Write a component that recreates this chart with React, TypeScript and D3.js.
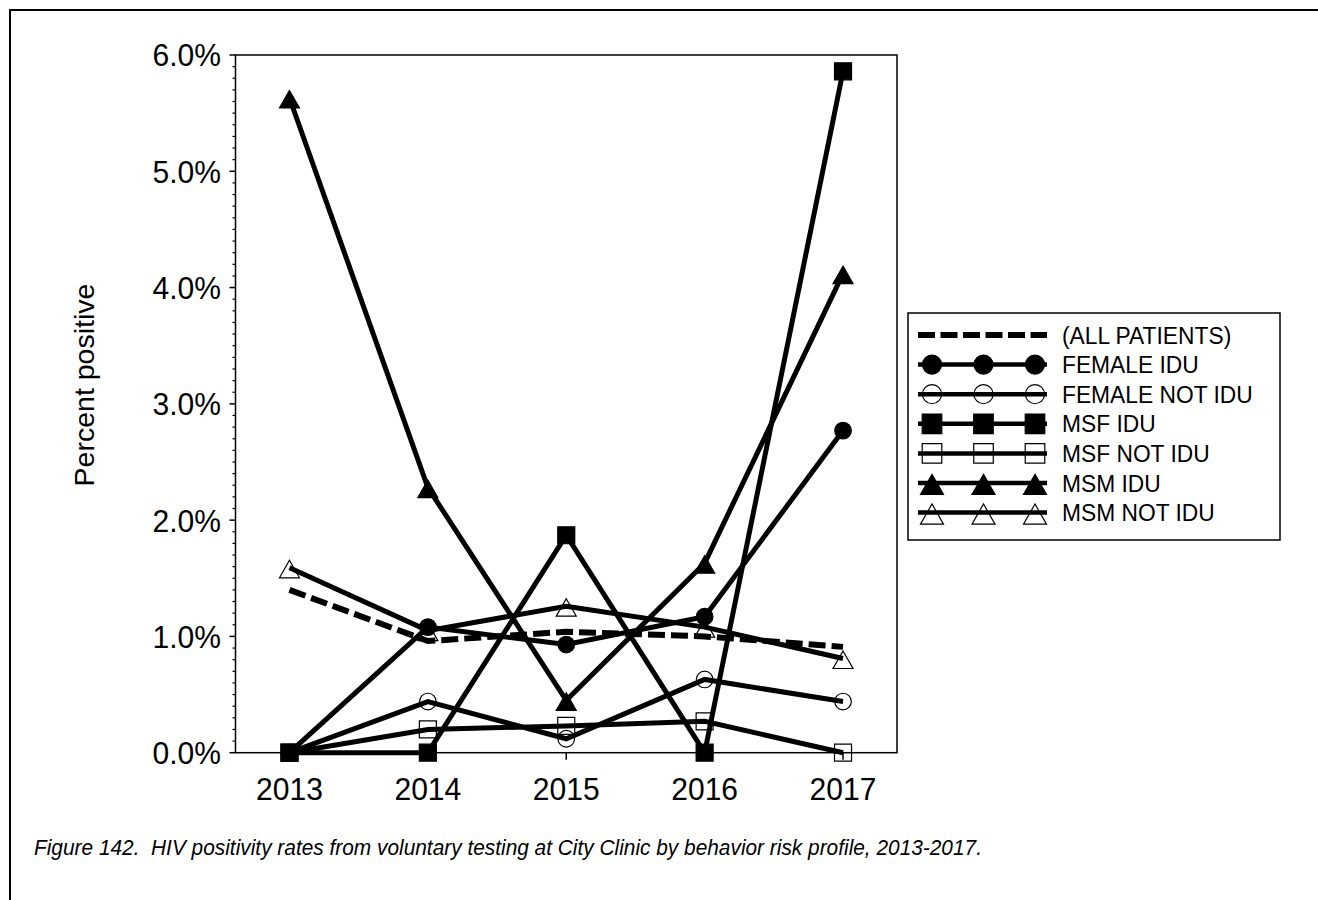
import React from 'react';
import * as d3 from 'd3';

const years = ['2013', '2014', '2015', '2016', '2017'];
const yTicks = [0, 1, 2, 3, 4, 5, 6];

const allPatients = [1.40, 0.96, 1.04, 1.00, 0.91];
const femaleIdu = [0, 1.08, 0.93, 1.17, 2.77];
const femaleNotIdu = [0, 0.44, 0.12, 0.63, 0.44];
const msfIdu = [0, 0, 1.87, 0, 5.86];
const msfNotIdu = [0, 0.20, 0.23, 0.27, 0];
const msmIdu = [5.63, 2.28, 0.45, 1.63, 4.12];
const msmNotIdu = [1.59, 1.05, 1.26, 1.08, 0.81];

type Marker = 'none' | 'circle' | 'square' | 'triangle';
const seriesNames = ['(ALL PATIENTS)', 'FEMALE IDU', 'FEMALE NOT IDU', 'MSF IDU', 'MSF NOT IDU', 'MSM IDU', 'MSM NOT IDU'];
const seriesValues = [allPatients, femaleIdu, femaleNotIdu, msfIdu, msfNotIdu, msmIdu, msmNotIdu];
const seriesMarkers: Marker[] = ['none', 'circle', 'circle', 'square', 'square', 'triangle', 'triangle'];
const seriesFilled = [false, true, false, true, false, true, false];
const seriesDashed = [true, false, false, false, false, false, false];

const FONT = '"Liberation Sans", Arial, Helvetica, sans-serif';
const SX = 0.95;

function markerPath(kind: Marker, s: number): string {
  if (kind === 'circle') {
    const r = 8.3 * s;
    return `M${-r},0A${r},${r} 0 1,0 ${r},0A${r},${r} 0 1,0 ${-r},0Z`;
  }
  if (kind === 'square') {
    const h = 8.5 * s;
    return `M${-h},${-h}H${h}V${h}H${-h}Z`;
  }
  if (kind === 'triangle') {
    const w = 10 * s;
    const top = -7.5 * s;
    const bot = 10 * s;
    return `M0,${top}L${w},${bot}L${-w},${bot}Z`;
  }
  return '';
}

function SText(props: { x: number; y: number; size: number; anchor?: string; dy?: string; italic?: boolean; children: React.ReactNode }) {
  const { x, y, size, anchor, dy, italic, children } = props;
  return (
    <g transform={`translate(${x},${y}) scale(${SX},1)`}>
      <text x={0} y={0} dy={dy} textAnchor={anchor || 'start'} fontSize={size / SX * 0.97}
        fontStyle={italic ? 'italic' : undefined}>{children}</text>
    </g>
  );
}

export default function App() {
  const left = 235.5;
  const right = 897;
  const top = 55;
  const bottom = 752.7;

  const x = d3.scalePoint<string>().domain(years).range([left, right]).padding(0.39);
  const y = d3.scaleLinear().domain([0, 6]).range([bottom, top]);
  const line = d3.line<number>().x((_, i) => x(years[i]) as number).y((d) => y(d));
  const minor = d3.range(0, 60).map((v) => v / 10).filter((v) => Math.abs(v - Math.round(v)) > 1e-6);

  const legX = 908, legY = 313, legW = 372, legH = 227;
  const rowY = (i: number) => 335 + i * 29.6;
  const legMarkX = [932, 983.5, 1035];

  return (
    <svg width={1318} height={900} style={{ position: 'absolute', left: 0, top: 0, background: '#fff' }} fontFamily={FONT}>
      <rect x={0} y={0} width={1318} height={900} fill="#fff" />
      <rect x={10} y={10} width={1400} height={1000} fill="none" stroke="#000" strokeWidth={2} />

      {/* plot box */}
      <rect x={left} y={top} width={right - left} height={bottom - top} fill="none" stroke="#000" strokeWidth={1.5} />

      {/* y ticks */}
      {yTicks.map((t) => (
        <g key={'yt' + t}>
          <line x1={left - 6} x2={left} y1={y(t)} y2={y(t)} stroke="#000" strokeWidth={1.5} />
          <SText x={221} y={y(t)} dy="0.36em" anchor="end" size={31}>{t.toFixed(1) + '%'}</SText>
        </g>
      ))}
      {minor.map((t) => (
        <line key={'mt' + t} x1={left - 3} x2={left} y1={y(t)} y2={y(t)} stroke="#000" strokeWidth={1.2} />
      ))}

      {/* x ticks */}
      {years.map((yr) => (
        <g key={'xt' + yr}>
          <line x1={x(yr)} x2={x(yr)} y1={bottom} y2={bottom + 7} stroke="#000" strokeWidth={1.5} />
          <SText x={x(yr) as number} y={800} anchor="middle" size={31}>{yr}</SText>
        </g>
      ))}

      <text transform="rotate(-90)" x={-385} y={94} textAnchor="middle" fontSize={28.5}>Percent positive</text>

      {/* series */}
      {seriesValues.map((vals, si) => (
        <g key={'s' + si}>
          <path d={line(vals) || ''} fill="none" stroke="#000" strokeWidth={seriesDashed[si] ? 6 : 5}
            strokeDasharray={seriesDashed[si] ? '17 6' : undefined} strokeLinejoin="miter" />
          {seriesMarkers[si] !== 'none' && vals.map((v, i) => (
            <path key={'m' + i} d={markerPath(seriesMarkers[si], 1)}
              transform={`translate(${x(years[i])},${y(v)})`}
              fill={seriesFilled[si] ? '#000' : 'none'} stroke="#000" strokeWidth={1.2} />
          ))}
        </g>
      ))}

      {/* legend */}
      <rect x={legX} y={legY} width={legW} height={legH} fill="#fff" stroke="#000" strokeWidth={1.5} />
      {seriesNames.map((name, si) => (
        <g key={'l' + si}>
          <line x1={918} x2={1047} y1={rowY(si)} y2={rowY(si)} stroke="#000" strokeWidth={seriesDashed[si] ? 6 : 4.5}
            strokeDasharray={seriesDashed[si] ? '17 5.5' : undefined} />
          {seriesMarkers[si] !== 'none' && legMarkX.map((mx, k) => (
            <path key={'lm' + k} d={markerPath(seriesMarkers[si], 1.15)}
              transform={`translate(${mx},${rowY(si)})`}
              fill={seriesFilled[si] ? '#000' : 'none'} stroke="#000" strokeWidth={1.2} />
          ))}
          <SText x={1062} y={rowY(si)} dy="0.36em" size={23.5}>{name}</SText>
        </g>
      ))}

      <SText x={34} y={855} size={21.5} italic>
        {'Figure 142.\u00a0\u00a0HIV positivity rates from voluntary testing at City Clinic by behavior risk profile, 2013-2017.'}
      </SText>
    </svg>
  );
}
